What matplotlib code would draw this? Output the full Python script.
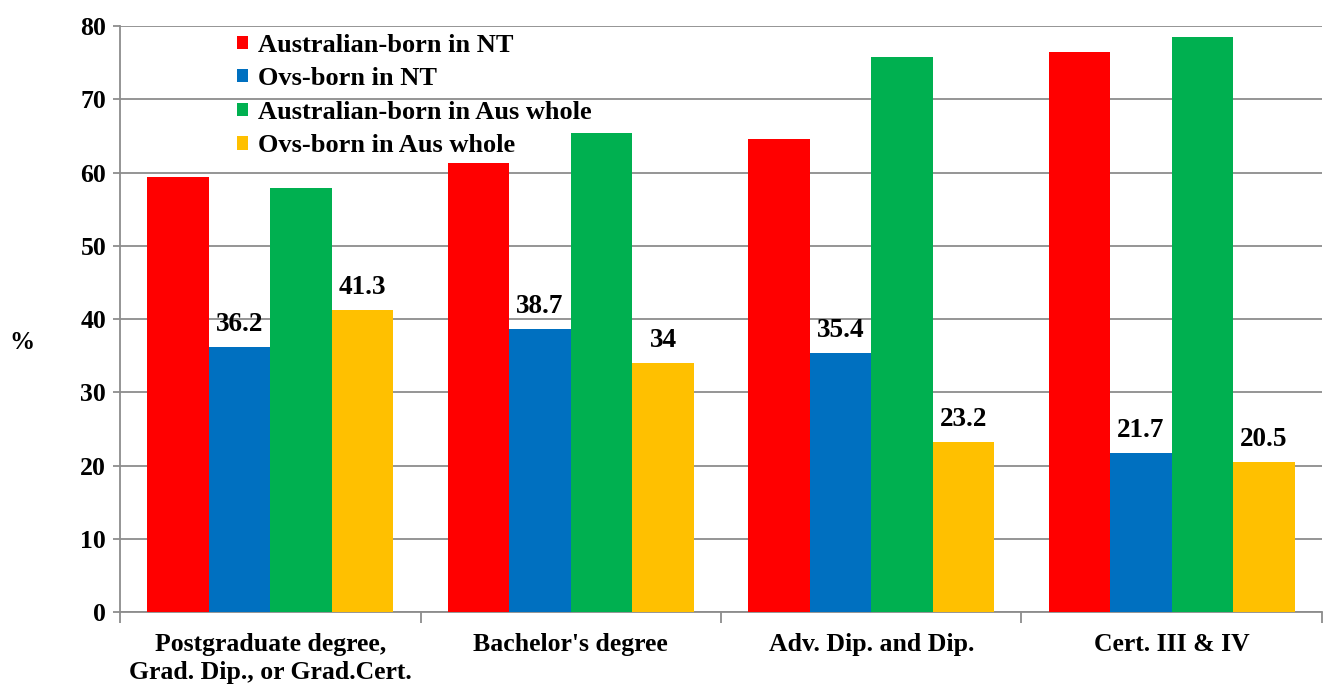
import numpy as np
import matplotlib
matplotlib.use("Agg")
import matplotlib.pyplot as plt

# Data
categories = ["Postgraduate degree,\nGrad. Dip., or Grad.Cert.", "Bachelor's degree",
              "Adv. Dip. and Dip.", "Cert. III & IV"]
series_names = ["Australian-born in NT", "Ovs-born in NT",
                "Australian-born in Aus whole", "Ovs-born in Aus whole"]
aus_nt = [59.4, 61.3, 64.6, 76.5]
ovs_nt = [36.2, 38.7, 35.4, 21.7]
aus_whole = [57.9, 65.4, 75.8, 78.5]
ovs_whole = [41.3, 34, 23.2, 20.5]
labelled = [False, True, False, True]  # only overseas-born bars carry labels

colors = ["#FF0000", "#0070C0", "#00B050", "#FFC000"]
series = [aus_nt, ovs_nt, aus_whole, ovs_whole]

plt.rcParams["font.family"] = ["Liberation Serif", "DejaVu Serif"]
plt.rcParams["font.weight"] = "bold"

fig = plt.figure(figsize=(13.25, 6.86), dpi=100)
ax = fig.add_axes([0.0906, 0.1079, 0.9071, 0.8541])

x = np.arange(len(categories))
width = 0.205
for i, (vals, c, name) in enumerate(zip(series, colors, series_names)):
    pos = x + (i - 1.5) * width
    bars = ax.bar(pos, vals, width=width, color=c, label=name, zorder=3)
    if labelled[i]:
        for b, v in zip(bars, vals):
            ax.annotate(f"{v:g}", (b.get_x() + b.get_width() / 2, v),
                        xytext=(0, 7), textcoords="offset points",
                        ha="center", va="bottom", fontsize=19.5, fontweight="bold")

ax.set_ylim(0, 80)
ax.set_xlim(-0.5, len(categories) - 0.5)
ax.set_yticks(np.arange(0, 81, 10))
ax.yaxis.grid(True, color="#8c8c8c", linewidth=1.3, zorder=0)
ax.set_axisbelow(True)

# boundaries as major ticks, category names on minor ticks
ax.set_xticks(np.arange(len(categories) + 1) - 0.5)
ax.set_xticklabels([])
ax.set_xticks(x, minor=True)
ax.set_xticklabels(categories, minor=True, fontsize=18.5, fontweight="bold",
                   linespacing=1.3)
ax.tick_params(axis="x", which="major", length=8, color="#8c8c8c", width=1.3)
ax.tick_params(axis="x", which="minor", length=0, pad=15)
ax.tick_params(axis="y", length=5, color="#8c8c8c", width=1.3, labelsize=18.5, pad=5)
for t in ax.get_yticklabels():
    t.set_fontweight("bold")

for s in ["top", "right"]:
    ax.spines[s].set_visible(False)
for s in ["left", "bottom"]:
    ax.spines[s].set_color("#8c8c8c")
    ax.spines[s].set_linewidth(1.3)

ax.set_ylabel("%", rotation=0, fontsize=18, fontweight="bold", va="center", ha="center")
ax.yaxis.set_label_coords(-0.0815, 0.46)

leg = ax.legend(loc="upper left", bbox_to_anchor=(0.0886, 1.005), frameon=False,
                borderaxespad=0,
                prop={"family": "Liberation Serif", "weight": "bold", "size": 19},
                handlelength=0.4, handleheight=0.4, handletextpad=0.38,
                labelspacing=0.4)

fig.savefig("out.png", dpi=100)
